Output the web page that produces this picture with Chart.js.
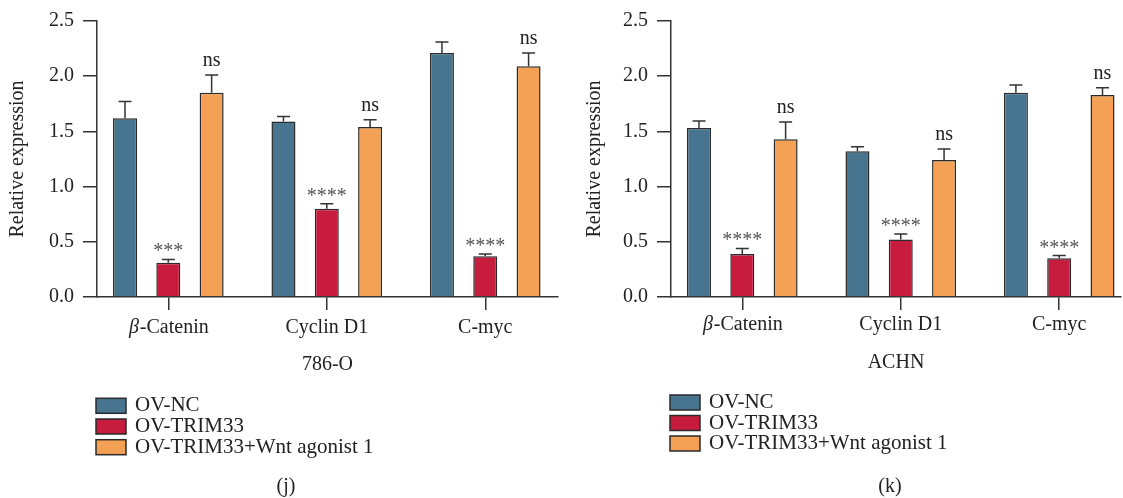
<!DOCTYPE html>
<html>
<head>
<meta charset="utf-8">
<script src="https://cdn.jsdelivr.net/npm/chart.js@4.4.1/dist/chart.umd.min.js"></script>
<style>
  html, body { margin: 0; padding: 0; background: #fff; }
  #wrap { position: relative; width: 1123px; height: 498px; }
  .panel { position: absolute; top: 0; height: 498px; }
</style>
</head>
<body>
<div id="wrap">
  <div class="panel" style="left:0;width:561px"><canvas id="chartJ" width="561" height="498"></canvas></div>
  <div class="panel" style="left:561px;width:562px"><canvas id="chartK" width="562" height="498"></canvas></div>
</div>
<script>
// shared labels
const categories = ['β-Catenin', 'Cyclin D1', 'C-myc'];
const seriesNames = ['OV-NC', 'OV-TRIM33', 'OV-TRIM33+Wnt agonist 1'];
const seriesColors = ['#477590', '#c81c3f', '#f4a055'];
const yTicks = [0, 0.5, 1.0, 1.5, 2.0, 2.5];

// (j) 786-O
const j_ovNC = [1.62, 1.59, 2.21];
const j_ovTrim = [0.31, 0.80, 0.37];
const j_agonist = [1.85, 1.54, 2.09];
const j_ovNC_err = [0.15, 0.045, 0.10];
const j_ovTrim_err = [0.03, 0.045, 0.02];
const j_agonist_err = [0.16, 0.065, 0.12];
const j_ovTrim_sig = ['***', '****', '****'];
const j_agonist_sig = ['ns', 'ns', 'ns'];

// (k) ACHN
const k_ovNC = [1.53, 1.32, 1.85];
const k_ovTrim = [0.39, 0.52, 0.35];
const k_agonist = [1.43, 1.24, 1.83];
const k_ovNC_err = [0.065, 0.04, 0.07];
const k_ovTrim_err = [0.05, 0.05, 0.025];
const k_agonist_err = [0.155, 0.10, 0.065];
const k_ovTrim_sig = ['****', '****', '****'];
const k_agonist_sig = ['ns', 'ns', 'ns'];

const FONT = "'Liberation Serif', 'DejaVu Serif', serif";
const INK = '#222';
const AXIS = '#333';

// error bars + significance marks above each bar
const errorBars = {
    id: 'errorBars',
    afterDatasetsDraw(chart) {
        const ctx = chart.ctx;
        const y = chart.scales.y;
        ctx.save();
        chart.data.datasets.forEach((ds, i) => {
            const meta = chart.getDatasetMeta(i);
            meta.data.forEach((bar, idx) => {
                const v = ds.data[idx].y;
                const top = y.getPixelForValue(v + ds.errors[idx]);
                ctx.strokeStyle = AXIS;
                ctx.lineWidth = 1.5;
                ctx.beginPath();
                ctx.moveTo(bar.x, bar.y);
                ctx.lineTo(bar.x, top);
                ctx.moveTo(bar.x - 6.5, top);
                ctx.lineTo(bar.x + 6.5, top);
                ctx.stroke();
                const s = ds.sig ? ds.sig[idx] : '';
                if (s) {
                    ctx.font = '20px ' + FONT;
                    ctx.textAlign = 'center';
                    ctx.textBaseline = 'alphabetic';
                    if (s === 'ns') {
                        ctx.fillStyle = INK;
                        ctx.fillText(s, bar.x, top - 9);
                    } else {
                        ctx.fillStyle = '#555';
                        ctx.fillText(s, bar.x, top - 2);
                    }
                }
            });
        });
        ctx.restore();
    }
};

// category labels (Greek letter in italics), vertical legend and panel caption
const panelLegend = {
    id: 'panelLegend',
    afterDraw(chart, args, opts) {
        const ctx = chart.ctx;
        const x = chart.scales.x;
        ctx.save();
        ctx.fillStyle = INK;
        ctx.textBaseline = 'middle';
        categories.forEach((c, i) => {
            const cx = x.getPixelForValue(i);
            const cy = chart.chartArea.bottom + opts.labelOffset;
            ctx.textAlign = 'left';
            if (c.startsWith('β')) {
                ctx.font = 'italic 20px ' + FONT;
                const wb = ctx.measureText('β').width;
                ctx.font = '20px ' + FONT;
                const wr = ctx.measureText(c.slice(1)).width;
                const x0 = cx - (wb + wr) / 2;
                ctx.font = 'italic 20px ' + FONT;
                ctx.fillText('β', x0, cy);
                ctx.font = '20px ' + FONT;
                ctx.fillText(c.slice(1), x0 + wb + 1, cy);
            } else {
                ctx.font = '20px ' + FONT;
                ctx.textAlign = 'center';
                ctx.fillText(c, cx, cy);
            }
        });

        ctx.font = '21px ' + FONT;
        ctx.textAlign = 'left';
        chart.data.datasets.forEach((ds, i) => {
            const cy = opts.y0 + i * opts.step;
            ctx.fillStyle = ds.backgroundColor;
            ctx.fillRect(opts.x, cy - 7.5, 30, 15);
            ctx.strokeStyle = '#2a2a2a';
            ctx.lineWidth = 1.5;
            ctx.strokeRect(opts.x, cy - 7.5, 30, 15);
            ctx.fillStyle = INK;
            ctx.fillText(ds.label, opts.x + 39, cy);
        });
        ctx.font = '20px ' + FONT;
        ctx.textAlign = 'center';
        ctx.fillText(opts.caption, opts.captionX, opts.captionY);
        ctx.restore();
    }
};

function makeChart(id, vals, errs, sigs, cfg) {
    const datasets = seriesNames.map((name, i) => ({
        label: name,
        data: vals[i].map((v, k) => ({ x: k, y: v })),
        errors: errs[i],
        sig: sigs[i],
        backgroundColor: seriesColors[i],
        borderColor: '#2a2a2a',
        borderWidth: 1.5,
        categoryPercentage: 0.82,
        barPercentage: 0.554
    }));
    return new Chart(document.getElementById(id), {
        type: 'bar',
        data: { datasets: datasets },
        plugins: [errorBars, panelLegend],
        options: {
            responsive: false,
            animation: false,
            layout: { padding: { left: 0, right: cfg.rightPad, top: 17, bottom: 118 } },
            plugins: {
                legend: { display: false },
                tooltip: { enabled: false },
                panelLegend: cfg.legend
            },
            scales: {
                x: {
                    type: 'linear',
                    min: -0.45,
                    max: cfg.xMax,
                    offset: false,
                    afterBuildTicks: s => { s.ticks = categories.map((c, i) => ({ value: i })); },
                    ticks: {
                        // labels are drawn by panelLegend so the Greek letter can be italic
                        callback: () => '',
                        autoSkip: false
                    },
                    grid: { offset: false, drawOnChartArea: false, tickLength: 13, color: AXIS, lineWidth: 1.5 },
                    border: { color: AXIS, width: 1.5 },
                    title: {
                        display: true,
                        text: cfg.xTitle,
                        color: INK,
                        font: { family: FONT, size: 20 },
                        padding: { top: 0, bottom: cfg.xTitlePad }
                    },
                    afterFit: s => { s.height = 83; }
                },
                y: {
                    min: 0,
                    max: 2.5,
                    afterBuildTicks: s => { s.ticks = yTicks.map(v => ({ value: v })); },
                    ticks: {
                        callback: v => v.toFixed(1),
                        padding: 9,
                        color: INK,
                        font: { family: FONT, size: 20 }
                    },
                    grid: { drawOnChartArea: false, tickLength: 14, color: AXIS, lineWidth: 1.5 },
                    border: { color: AXIS, width: 1.5 },
                    title: {
                        display: true,
                        text: 'Relative expression',
                        color: INK,
                        font: { family: FONT, size: 20 },
                        padding: { top: cfg.yTitlePad, bottom: 0 }
                    },
                    afterFit: s => { s.width = cfg.yWidth; }
                }
            }
        }
    });
}

makeChart('chartJ',
    [j_ovNC, j_ovTrim, j_agonist],
    [j_ovNC_err, j_ovTrim_err, j_agonist_err],
    [null, j_ovTrim_sig, j_agonist_sig],
    {
        rightPad: 3, xMax: 2.459, yWidth: 97, yTitlePad: 6, xTitle: '786-O', xTitlePad: 3,
        legend: { labelOffset: 31, x: 96, y0: 405.8, step: 20.7, caption: '(j)', captionX: 286, captionY: 487 }
    });

makeChart('chartK',
    [k_ovNC, k_ovTrim, k_agonist],
    [k_ovNC_err, k_ovTrim_err, k_agonist_err],
    [null, k_ovTrim_sig, k_agonist_sig],
    {
        rightPad: 2, xMax: 2.39, yWidth: 110, yTitlePad: 22, xTitle: 'ACHN', xTitlePad: 5,
        legend: { labelOffset: 28, x: 109, y0: 402.5, step: 20.5, caption: '(k)', captionX: 329, captionY: 487 }
    });
</script>
</body>
</html>
